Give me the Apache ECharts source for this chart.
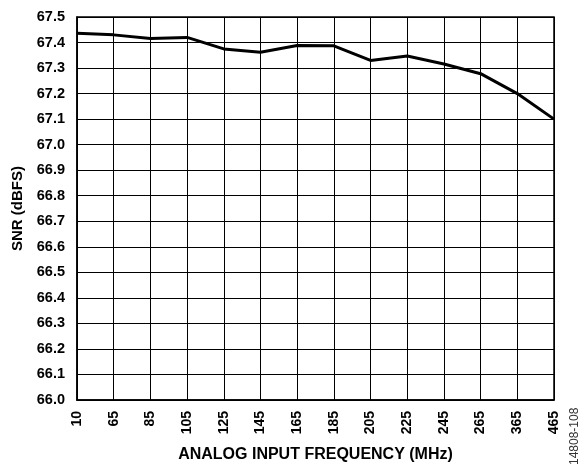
<!DOCTYPE html>
<html><head><meta charset="utf-8">
<script src="https://cdn.jsdelivr.net/npm/echarts@6/dist/echarts.min.js"></script>
<style>html,body{margin:0;padding:0;background:#fff}#c{width:580px;height:468px}</style>
</head><body><div id="c"></div>
<script>
const categories = ['10','65','85','105','125','145','165','185','205','225','245','265','365','465'];
const snr = [67.436, 67.43, 67.416, 67.42, 67.375, 67.362, 67.388, 67.387, 67.33, 67.347, 67.316, 67.278, 67.2, 67.1];
const yMin = 66.0, yMax = 67.5, yStep = 0.1;
const font = 'Liberation Sans, Arial, sans-serif';
const chart = echarts.init(document.getElementById('c'));
chart.setOption({
  animation: false,
  backgroundColor: '#fff',
  grid: { left: 77, right: 26, top: 17, bottom: 66, show: true, borderColor: '#000', borderWidth: 1.5, backgroundColor: 'transparent' },
  xAxis: {
    type: 'category', data: categories, boundaryGap: false,
    name: 'ANALOG INPUT FREQUENCY (MHz)', nameLocation: 'middle', nameGap: 47,
    nameTextStyle: { fontFamily: font, fontWeight: 'bold', fontSize: 16, color: '#000' },
    axisLine: { lineStyle: { color: '#000', width: 1.5 } },
    axisTick: { show: false },
    axisLabel: { rotate: 90, margin: 11, fontFamily: font, fontWeight: 'bold', fontSize: 14, color: '#000', interval: 0 },
    splitLine: { show: true, interval: 0, lineStyle: { color: '#000', width: 1 } }
  },
  yAxis: {
    type: 'value', min: yMin, max: yMax, interval: yStep,
    name: 'SNR (dBFS)', nameLocation: 'middle', nameGap: 52,
    nameTextStyle: { fontFamily: font, fontWeight: 'bold', fontSize: 15, color: '#000' },
    axisLine: { show: true, lineStyle: { color: '#000', width: 1.5 } },
    axisTick: { show: false },
    axisLabel: { margin: 12, fontFamily: font, fontWeight: 'bold', fontSize: 14.5, color: '#000', formatter: v => v.toFixed(1) },
    splitLine: { show: true, lineStyle: { color: '#000', width: 1 } }
  },
  series: [{
    type: 'line', data: snr, symbol: 'none',
    lineStyle: { color: '#000', width: 3 }
  }],
  graphic: [{
    type: 'text', x: 575, y: 465, rotation: Math.PI / 2,
    style: { text: '14808-108', fontFamily: font, fontSize: 12, fill: '#333', textAlign: 'left', textVerticalAlign: 'middle' }
  }]
});
</script></body></html>
